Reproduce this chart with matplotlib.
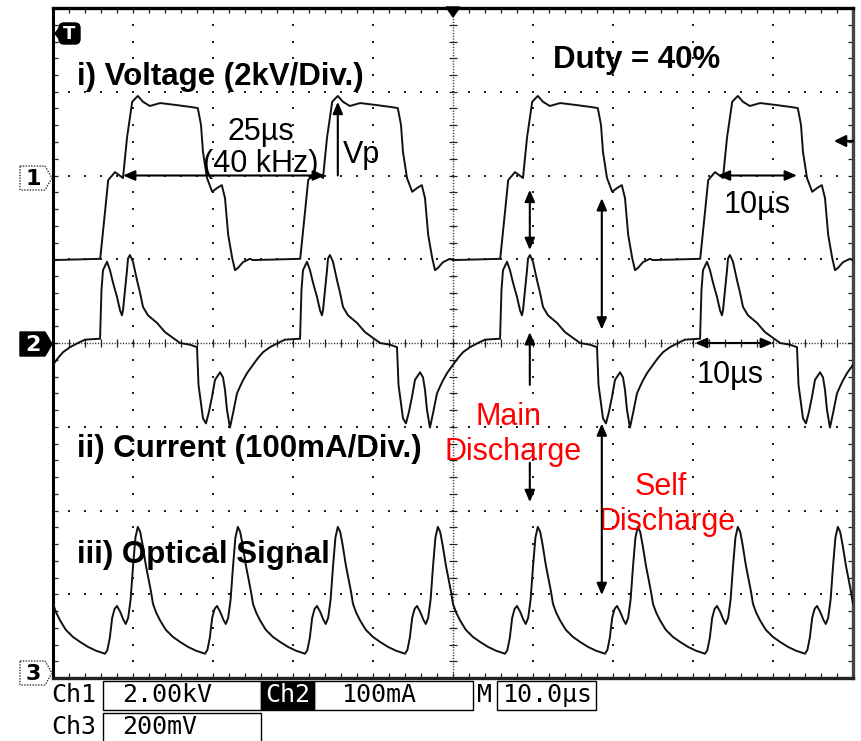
import numpy as np
import matplotlib.pyplot as plt
from matplotlib.patches import Polygon, Rectangle, FancyBboxPatch

W, H = 861, 741

# ch1 voltage, one 25 us period (us, kV)
ch1_t = [0.0, 5.9, 6.4, 6.9, 7.75, 8.4, 8.75, 9.25, 9.9, 10.6, 11.25, 12.1, 13.4,
         15.5, 17.1, 18.1, 18.5, 18.75, 19.25, 19.9, 20.5, 21.1, 21.5, 21.9, 22.4,
         22.75, 23.1, 23.75, 24.6]
ch1_kv = [-2.02, -1.99, -1.06, -0.11, 0.08, -0.01, -0.06, 0.90, 1.76, 1.90, 1.76,
          1.66, 1.73, 1.68, 1.64, 1.61, 1.21, 0.56, -0.06, -0.39, -0.30, -0.23,
          -0.54, -1.42, -1.97, -2.26, -2.21, -2.07, -1.99]

# ch2 current, one 25 us period (us, mA)
ch2_t = [0.0, 0.62, 1.25, 2.12, 3.12, 4.0, 5.62, 5.88, 6.06, 6.25, 6.75, 7.12, 7.5,
         8.0, 8.38, 8.62, 8.75, 9.0, 9.25, 9.38, 9.62, 10.0, 10.5, 10.88, 11.25,
         11.88, 13.0, 14.0, 15.0, 15.88, 17.12, 18.0, 18.19, 18.75, 19.12, 19.5,
         19.88, 20.25, 20.88, 21.25, 21.5, 21.75, 22.12, 22.5, 23.0, 23.62, 24.25]
ch2_ma = [-26, -18, -11, -5, 0, 4, 5, 5, 63, 87, 97, 87, 72, 55, 39, 33, 39, 63, 87,
          101, 105, 97, 75, 60, 43, 33, 24, 13, 6, 0, -2, -5, -50, -90, -96, -82,
          -64, -44, -35, -41, -56, -80, -101, -84, -60, -47, -36]

# ch3 optical signal, one 12.5 us period (us, mV)
ch3_t = [0.0, 0.4, 0.9, 1.6, 2.5, 3.4, 4.4, 5.4, 6.5, 6.8, 7.1, 7.4, 7.7, 8.0, 8.4,
         8.8, 9.1, 9.4, 9.7, 10.0, 10.3, 10.6, 10.9, 11.2, 11.6, 12.0, 12.25]
ch3_mv = [167, 146, 127, 105, 88, 76, 64, 55, 48, 57, 86, 134, 155, 162, 148, 129,
          119, 134, 177, 256, 325, 351, 339, 308, 260, 220, 196]

volt_period = 25.0
opt_period = 12.5

# (position in div, units per div)
ch1_pos, ch1_scale = 6.0, 2.0
ch2_pos, ch2_scale = 4.0, 100.0
ch3_pos, ch3_scale = 0.05, 200.0


def tile(t, v, period, n):
    t = np.asarray(t, dtype=float)
    v = np.asarray(v, dtype=float)
    tt = np.concatenate([t + k * period for k in range(n)] + [[n * period]])
    vv = np.concatenate([v] * n + [[v[0]]])
    return tt, vv


fig = plt.figure(figsize=(W / 100, H / 100), dpi=100)
fig.patch.set_facecolor('white')
ax = fig.add_axes([53 / W, 1 - 678 / H, 800 / W, 670 / H])
ax.set_xlim(0, 100)
ax.set_ylim(0, 8)
ax.set_xticks([])
ax.set_yticks([])
for side, c, lw in [('left', 'black', 2.2), ('top', 'black', 2.4),
                    ('right', '#444444', 2.4), ('bottom', '#222222', 2.4)]:
    ax.spines[side].set_color(c)
    ax.spines[side].set_linewidth(lw)

# graticule
dot = dict(ls='none', marker='s', ms=1.5, color='#222222', mew=0)
ys = np.arange(0, 8.01, 0.2)
xs = np.arange(0, 100.1, 2)
for gx in [10, 20, 30, 40, 60, 70, 80, 90]:
    ax.plot(np.full_like(ys, gx), ys, **dot)
for gy in [1, 2, 3, 5, 6, 7]:
    ax.plot(xs, np.full_like(xs, gy), **dot)
ax.axvline(50, color='#222222', lw=1.0, ls=(0, (0.8, 1.2)))
ax.axhline(4, color='#222222', lw=1.0, ls=(0, (0.8, 1.2)))
ax.plot(np.full_like(ys, 50), ys, ls='none', marker='_', ms=6, color='#222222', mew=0.9)
ax.plot(xs, np.full_like(xs, 4), ls='none', marker='|', ms=6, color='#222222', mew=0.9)
for ey in [0, 8]:
    ax.plot(xs, np.full_like(xs, ey), ls='none', marker='|', ms=7, color='#222222', mew=0.9)
for ex in [0, 100]:
    ax.plot(np.full_like(ys, ex), ys, ls='none', marker='_', ms=7, color='#222222', mew=0.9)

# traces
t1, v1 = tile(ch1_t, ch1_kv, volt_period, 4)
t2, v2 = tile(ch2_t, ch2_ma, volt_period, 4)
t3, v3 = tile(ch3_t, ch3_mv, opt_period, 8)
trace = dict(color='#111111', lw=1.4, zorder=3)
ax.plot(t1, ch1_pos + v1 / ch1_scale, **trace)
ax.plot(t2, ch2_pos + v2 / ch2_scale, **trace)
ax.plot(t3, ch3_pos + v3 / ch3_scale, **trace)

# labels
bold = dict(family='Liberation Sans', fontsize=22.5, fontweight='bold', va='baseline', zorder=4)
reg = dict(family='Liberation Sans', fontsize=22, va='baseline', ha='center', zorder=4)
ax.text(3.0, 7.08, 'i) Voltage (2kV/Div.)', **bold)
ax.text(3.0, 2.64, 'ii) Current (100mA/Div.)', **bold)
ax.text(3.0, 1.37, 'iii) Optical Signal', **bold)
ax.text(72.9, 7.28, 'Duty = 40%', ha='center', **bold)

ax.text(26.0, 6.42, '25µs', **reg)
ax.text(26.0, 6.04, '(40 kHz)', **reg)
ax.text(36.2, 6.15, 'Vp', family='Liberation Sans', fontsize=22, va='baseline', zorder=4)
ax.text(88.0, 5.55, '10µs', **reg)
ax.text(84.6, 3.52, '10µs', **reg)
red = dict(reg, color='red')
ax.text(56.9, 3.02, 'Main', **red)
ax.text(57.5, 2.60, 'Discharge', **red)
ax.text(76.0, 2.19, 'Self', **red)
ax.text(76.7, 1.77, 'Discharge', **red)


def arrow(x0, y0, x1, y1, style='<|-|>'):
    ax.annotate('', xy=(x1, y1), xytext=(x0, y0),
                arrowprops=dict(arrowstyle=style + ',head_length=0.7,head_width=0.3',
                                color='black', lw=1.5, shrinkA=0, shrinkB=0),
                zorder=4)


arrow(8.75, 6.0, 34.0, 6.0)
arrow(35.6, 6.0, 35.6, 6.88, '-|>')
arrow(83.1, 6.0, 93.0, 6.0)
arrow(80.25, 4.0, 90.0, 4.0)
arrow(59.6, 5.83, 59.6, 5.11)
arrow(68.6, 5.73, 68.6, 4.16)
arrow(59.6, 3.50, 59.6, 4.13, '-|>')
arrow(59.6, 2.57, 59.6, 2.10, '-|>')
arrow(68.6, 3.04, 68.6, 0.99)

# scope overlay in pixel coordinates
ov = fig.add_axes([0, 0, 1, 1], zorder=5)
ov.set_xlim(0, W)
ov.set_ylim(H, 0)
ov.axis('off')
ov.patch.set_alpha(0)

# trigger markers
ov.add_patch(FancyBboxPatch((59, 23), 21, 21, boxstyle='round,pad=0,rounding_size=5',
                            fc='black', ec='black'))
ov.add_patch(Polygon([(55, 33.5), (60, 27), (60, 40)], closed=True, fc='black', ec='black'))
ov.text(69.5, 34, 'T', color='white', fontsize=13, fontweight='bold',
        family='DejaVu Sans', ha='center', va='center')
ov.add_patch(Polygon([(446, 7), (460, 7), (453, 17)], closed=True, fc='black', ec='black'))
ov.annotate('', xy=(834, 141), xytext=(853, 141),
            arrowprops=dict(arrowstyle='-|>,head_length=0.7,head_width=0.35',
                            color='black', lw=1.6, shrinkA=0, shrinkB=0))

# channel markers
for num, yc, dark in [('1', 178, False), ('2', 344, True), ('3', 673, False)]:
    pts = [(20, yc - 12), (45, yc - 12), (52, yc), (45, yc + 12), (20, yc + 12)]
    if dark:
        ov.add_patch(Polygon(pts, closed=True, fc='black', ec='black', lw=1))
    else:
        ov.add_patch(Polygon(pts, closed=True, fc='white', ec='#333333', lw=1, ls=(0, (1, 1))))
    ov.text(33, yc + 1, num, color='white' if dark else 'black', fontsize=16,
            fontweight='bold', family='DejaVu Sans', ha='center', va='center')

# status bar
mono = dict(family='DejaVu Sans Mono', fontsize=18, va='center')
ov.text(51, 695, 'Ch1', **mono)
ov.add_patch(Rectangle((103, 681), 158, 29, fc='none', ec='black', lw=1))
ov.text(122, 695, '2.00kV', **mono)
ov.add_patch(Rectangle((261, 681), 53, 29, fc='black', ec='black', lw=1))
ov.text(287.5, 695, 'Ch2', color='white', ha='center', **mono)
ov.add_patch(Rectangle((314, 681), 159, 29, fc='none', ec='black', lw=1))
ov.text(342, 695, '100mA', **mono)
ov.text(485, 695, 'M', ha='center', **mono)
ov.add_patch(Rectangle((497, 681), 99, 29, fc='none', ec='black', lw=1))
ov.text(503, 695, '10.0µs', **mono)
ov.text(51, 727, 'Ch3', **mono)
ov.add_patch(Rectangle((103, 713), 158, 40, fc='none', ec='black', lw=1))
ov.text(122, 727, '200mV', **mono)

fig.savefig('out.png', dpi=100)
